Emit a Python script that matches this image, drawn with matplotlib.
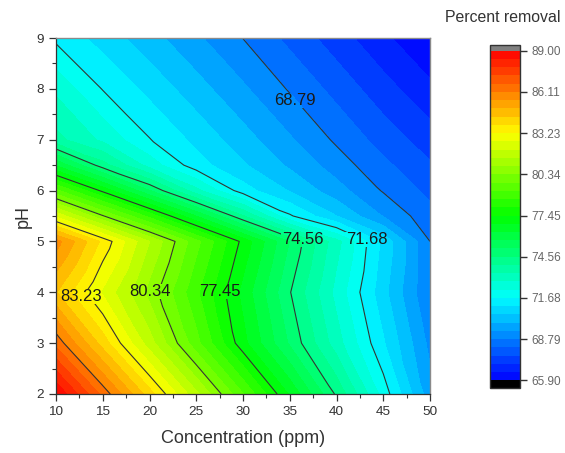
import numpy as np
import matplotlib
matplotlib.use("Agg")
import matplotlib.pyplot as plt
import matplotlib.tri as mtri
from matplotlib.colors import LinearSegmentedColormap
from matplotlib.path import Path
from matplotlib.ticker import MultipleLocator

plt.rcParams['font.family'] = ['Liberation Sans', 'DejaVu Sans']

# Response surface: percent removal over concentration (ppm) and pH
concentration = [10, 15, 20, 25, 30, 35, 40, 45, 50]
ph_values = [2, 3, 4, 5, 5.5, 6, 6.5, 7, 8, 9]
removal = [
    [89.00, 86.50, 84.06, 81.64, 79.21, 76.80, 74.46, 72.02, 69.60],  # pH 2
    [86.51, 84.13, 81.76, 79.38, 77.07, 75.05, 73.10, 71.17, 69.20],  # pH 3
    [84.42, 82.56, 80.71, 78.73, 76.69, 74.60, 72.64, 70.72, 68.79],  # pH 4
    [85.80, 83.66, 81.50, 79.38, 77.28, 75.12, 73.04, 70.95, 68.79],  # pH 5
    [82.52, 80.40, 78.41, 76.29, 74.05, 71.77, 70.53, 69.34, 68.40],  # pH 5.5
    [79.33, 77.30, 75.17, 73.03, 71.36, 70.48, 69.60, 68.74, 68.06],  # pH 6
    [76.22, 74.24, 72.59, 71.35, 70.59, 69.84, 69.09, 68.35, 67.70],  # pH 6.5
    [73.60, 72.70, 71.71, 70.94, 70.19, 69.44, 68.69, 67.97, 67.34],  # pH 7
    [72.70, 71.65, 70.92, 70.19, 69.46, 68.73, 68.01, 67.29, 66.62],  # pH 8
    [71.55, 70.86, 70.17, 69.47, 68.78, 68.05, 67.33, 66.61, 65.90],  # pH 9
]

# Major (labelled) levels shown on the colour scale
scale_ticks = [65.90, 68.79, 71.68, 74.56, 77.45, 80.34, 83.23, 86.11, 89.00]
line_levels = [68.79, 71.68, 74.56, 77.45, 80.34, 83.23, 86.11]

# Where each contour value is written on the map
label_values = [83.23, 80.34, 77.45, 74.56, 71.68, 68.79]
label_spots = [(12.7, 3.92), (20.1, 4.02), (27.5, 4.02), (36.4, 5.03),
               (43.2, 5.03), (35.6, 7.78)]

# ---- triangulated grid (piecewise-linear surface) ----
X, Y = np.meshgrid(concentration, ph_values)
Z = np.array(removal)
nx, ny = len(concentration), len(ph_values)
tris = []
for j in range(ny - 1):
    for i in range(nx - 1):
        bl = j * nx + i
        br = bl + 1
        tl = bl + nx
        tr = tl + 1
        tris.append([bl, br, tl])
        tris.append([br, tr, tl])
tri = mtri.Triangulation(X.ravel(), Y.ravel(), np.array(tris))

cmap = LinearSegmentedColormap.from_list(
    "rainbow5", ["#0000ff", "#00ffff", "#00ff00", "#ffff00", "#ff0000"])
cmap.set_over("#808080")
cmap.set_under("#000000")

fill_levels = np.linspace(scale_ticks[0], scale_ticks[-1], 41)

fig = plt.figure(figsize=(5.65, 4.53), dpi=100)
ax = fig.add_axes([56 / 565, 1 - 394 / 453, 374 / 565, 356 / 453])

cf = ax.tricontourf(tri, Z.ravel(), levels=fill_levels, cmap=cmap,
                    extend="both", zorder=1)
cl = ax.tricontour(tri, Z.ravel(), levels=line_levels, colors="#333333",
                   linewidths=0.8, zorder=2)

ax.set_xlim(10, 50)
ax.set_ylim(2, 9)
ax.xaxis.set_major_locator(MultipleLocator(5))
ax.xaxis.set_minor_locator(MultipleLocator(2.5))
ax.yaxis.set_major_locator(MultipleLocator(1))
ax.yaxis.set_minor_locator(MultipleLocator(0.5))
ax.tick_params(which="both", direction="out", colors="#333333",
               labelsize=9.7, top=False, right=False)
ax.tick_params(which="major", length=5, width=0.9)
ax.tick_params(which="minor", length=3, width=0.8)
for side in ("left", "bottom"):
    ax.spines[side].set_color("#333333")
    ax.spines[side].set_linewidth(0.9)
for side in ("top", "right"):
    ax.spines[side].set_color("#8a8a8a")
    ax.spines[side].set_linewidth(1.0)

ax.set_xlabel("Concentration (ppm)", fontsize=13, color="#333333")
ax.set_ylabel("pH", fontsize=13, color="#333333")
ax.xaxis.set_label_coords(0.5, -0.10)
ax.yaxis.set_label_coords(-0.065, 0.5)

# contour value labels, horizontal as in the source software
texts = []
for val, (lx, ly) in zip(label_values, label_spots):
    t = ax.text(lx, ly, f"{val:.2f}", ha="center", va="center",
                fontsize=12, color="#1a1a1a", zorder=4)
    texts.append(t)

# blank out the contour lines underneath each label
fig.canvas.draw()
inv = ax.transData.inverted()
verts, codes = [], []
for t in texts:
    bb = t.get_window_extent().expanded(1.05, 1.0)
    (x0, y0), (x1, y1) = inv.transform([[bb.x0, bb.y0], [bb.x1, bb.y1]])
    verts += [(x0, y0), (x1, y0), (x1, y1), (x0, y1), (x0, y0)]
    codes += [Path.MOVETO, Path.LINETO, Path.LINETO, Path.LINETO, Path.CLOSEPOLY]
mask_path = Path(verts, codes)
cover = ax.tricontourf(tri, Z.ravel(), levels=fill_levels, cmap=cmap,
                       extend="both", zorder=3)
cover.set_clip_path(mask_path, ax.transData)

# colour scale
cax = fig.add_axes([490 / 565, 1 - 388 / 453, 30 / 565, 343 / 453])
cbar = fig.colorbar(cf, cax=cax, ticks=scale_ticks, extendrect=True,
                    extendfrac=(8 / 343, 6 / 343), drawedges=False)
cbar.ax.set_yticklabels([f"{v:.2f}" for v in scale_ticks])
cbar.ax.tick_params(direction="out", length=5, width=1.0, color="#333333",
                    labelsize=8.5, labelcolor="#666666")
cbar.outline.set_edgecolor("#333333")
cbar.outline.set_linewidth(1.0)
fig.text(503 / 565, 1 - 18 / 453, "Percent removal", ha="center",
         va="center", fontsize=11.4, color="#333333")

fig.savefig("out.png", dpi=100)
